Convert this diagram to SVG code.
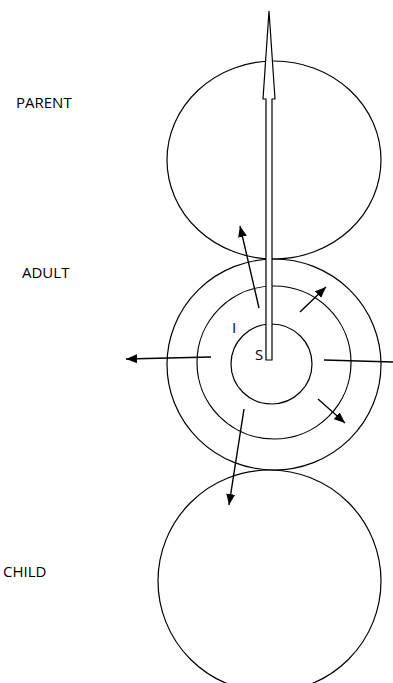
<svg xmlns="http://www.w3.org/2000/svg" width="393" height="683" viewBox="0 0 393 683">
<defs>
<style>
.c{fill:none;stroke:#000;stroke-width:1.2}
.a{fill:none;stroke:#000;stroke-width:1.4}
.t{font-family:"Open Sans","Liberation Sans",sans-serif;font-size:15px;fill:#000}
</style>
<marker id="ah" markerUnits="userSpaceOnUse" markerWidth="11" markerHeight="9" refX="11" refY="4.5" orient="auto">
<path d="M0,0 L11,4.5 L0,9 z" fill="#000"/>
</marker>
</defs>
<rect width="393" height="683" fill="#fff"/>
<g id="parent">
<ellipse class="c" cx="274" cy="160" rx="107" ry="99"/>
<text class="t" x="16" y="108">PARENT</text>
</g>
<g id="adult">
<ellipse class="c" cx="274" cy="364.5" rx="107" ry="105.5"/>
<ellipse class="c" cx="274" cy="362.5" rx="77" ry="76.5"/>
<ellipse class="c" cx="271.5" cy="364" rx="40.5" ry="40"/>
<text class="t" x="22" y="278">ADULT</text>
<text class="t" x="232" y="333">I</text>
<text class="t" x="255" y="360">S</text>
</g>
<g id="child">
<ellipse class="c" cx="269.5" cy="581" rx="111.5" ry="111"/>
<text class="t" x="3" y="577">CHILD</text>
</g>
<g id="connectors">
<polygon points="266,360 266,99 263,99 269,11 275,99 272,99 272,360" fill="#fff" stroke="#000" stroke-width="1.2"/>
<line class="a" x1="259" y1="308" x2="240" y2="226" marker-end="url(#ah)"/>
<line class="a" x1="300" y1="312" x2="326" y2="287" marker-end="url(#ah)"/>
<line class="a" x1="211" y1="357" x2="126" y2="359" marker-end="url(#ah)"/>
<line class="a" x1="324" y1="360" x2="393" y2="362"/>
<line class="a" x1="318" y1="399" x2="345" y2="423" marker-end="url(#ah)"/>
<line class="a" x1="244" y1="409" x2="229" y2="505" marker-end="url(#ah)"/>
</g>
</svg>
